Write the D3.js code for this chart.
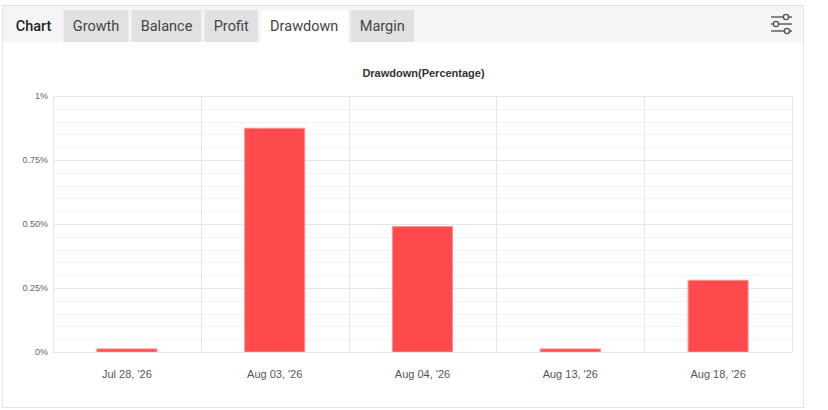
<!DOCTYPE html>
<html>
<head>
<meta charset="utf-8">
<script src="https://cdn.jsdelivr.net/npm/d3@7"></script>
<style>
  html, body { margin: 0; padding: 0; background: #ffffff; }
  svg { display: block; }
</style>
</head>
<body>
<svg id="chart" width="828" height="410"></svg>
<script>
const tabs = ["Chart", "Growth", "Balance", "Profit", "Drawdown", "Margin"];
const activeTab = "Drawdown";
const chartTitle = "Drawdown(Percentage)";
const categories = ["Jul 28, '26", "Aug 03, '26", "Aug 04, '26", "Aug 13, '26", "Aug 18, '26"];
const drawdown = [0.012, 0.874, 0.49, 0.012, 0.28];
const yTicks = [0, 0.25, 0.5, 0.75, 1];
const yTickLabels = ["0%", "0.25%", "0.50%", "0.75%", "1%"];

const svg = d3.select("#chart");

// outer container
svg.append("rect").attr("x", 2.5).attr("y", 5.5).attr("width", 801).attr("height", 402)
  .attr("fill", "#ffffff").attr("stroke", "#e3e3e3");
// tab bar background
svg.append("rect").attr("x", 3).attr("y", 6).attr("width", 800).attr("height", 36)
  .attr("fill", "#f5f5f5");

// tabs
let tx = 6.5;
const tabG = svg.append("g");
tabs.forEach((t, i) => {
  const g = tabG.append("g");
  const txt = g.append("text")
    .attr("y", 31)
    .attr("font-family", "Roboto, 'Noto Sans', sans-serif")
    .attr("font-size", 14.5)
    .attr("font-weight", i === 0 ? 500 : 400)
    .attr("fill", i === 0 ? "#222" : "#444")
    .text(t);
  const w = txt.node().getComputedTextLength();
  const pad = 9.2;
  const tw = w + pad * 2;
  if (i > 0) {
    g.insert("rect", "text")
      .attr("x", tx).attr("y", 10).attr("width", tw).attr("height", 32)
      .attr("fill", t === activeTab ? "#ffffff" : "#e1e1e1");
  }
  txt.attr("x", tx + pad);
  tx += tw + 3;
});

// settings icon
const ic = svg.append("g").attr("stroke", "#555").attr("stroke-width", 1.4).attr("fill", "#f5f5f5");
[[17, 786], [24, 776], [31, 787]].forEach(([y, cx]) => {
  ic.append("line").attr("x1", 771).attr("x2", 792).attr("y1", y).attr("y2", y);
  ic.append("circle").attr("cx", cx).attr("cy", y).attr("r", 2.6);
});

// plot
const m = { left: 53, right: 792, top: 96, bottom: 352 };
const x = d3.scaleBand().domain(categories).range([m.left, m.right]).paddingInner(0).paddingOuter(0);
const y = d3.scaleLinear().domain([0, 1]).range([m.bottom, m.top]);

svg.append("text")
  .attr("x", (m.left + m.right) / 2 + 1).attr("y", 77)
  .attr("text-anchor", "middle")
  .attr("font-family", "'Liberation Sans', Arial, sans-serif")
  .attr("font-size", 11).attr("font-weight", "bold").attr("fill", "#333")
  .text(chartTitle);

// minor gridlines
const minor = d3.range(0, 1.0001, 0.05);
svg.append("g").selectAll("line").data(minor).join("line")
  .attr("x1", m.left).attr("x2", m.right)
  .attr("y1", d => Math.round(y(d)) + 0.5).attr("y2", d => Math.round(y(d)) + 0.5)
  .attr("stroke", "#f3f3f3");

// major gridlines via axis
const yAxis = d3.axisLeft(y).tickValues(yTicks)
  .tickFormat((d, i) => yTickLabels[i])
  .tickSize(-(m.right - m.left)).tickPadding(5);
const ya = svg.append("g").attr("transform", `translate(${m.left},0)`).call(yAxis);
ya.select(".domain").remove();
ya.selectAll(".tick line").attr("stroke", "#e6e6e6");
ya.selectAll(".tick text")
  .attr("font-family", "'Liberation Sans', Arial, sans-serif")
  .attr("font-size", 9).attr("fill", "#666");

// vertical category separators
const seps = categories.map(c => x(c)).concat([m.right]);
svg.append("g").selectAll("line").data(seps).join("line")
  .attr("x1", d => Math.round(d) + 0.5).attr("x2", d => Math.round(d) + 0.5)
  .attr("y1", m.top).attr("y2", m.bottom)
  .attr("stroke", "#e6e6e6");

// bars
const bw = x.bandwidth() * 0.406;
svg.append("g").selectAll("rect").data(categories).join("rect")
  .attr("x", d => x(d) + (x.bandwidth() - bw) / 2)
  .attr("y", (d, i) => y(drawdown[i]))
  .attr("width", bw)
  .attr("height", (d, i) => y(0) - y(drawdown[i]))
  .attr("fill", "#ff4a4d")
  .attr("stroke", "#ff8f90").attr("stroke-width", 1);

// bottom axis
const xAxis = d3.axisBottom(x).tickSize(0).tickPadding(18);
const xa = svg.append("g").attr("transform", `translate(0,${m.bottom})`).call(xAxis);
xa.select(".domain").attr("stroke", "#e6e6e6");
xa.selectAll(".tick text")
  .attr("font-family", "'Liberation Sans', Arial, sans-serif")
  .attr("font-size", 11).attr("fill", "#555");
</script>
</body>
</html>
